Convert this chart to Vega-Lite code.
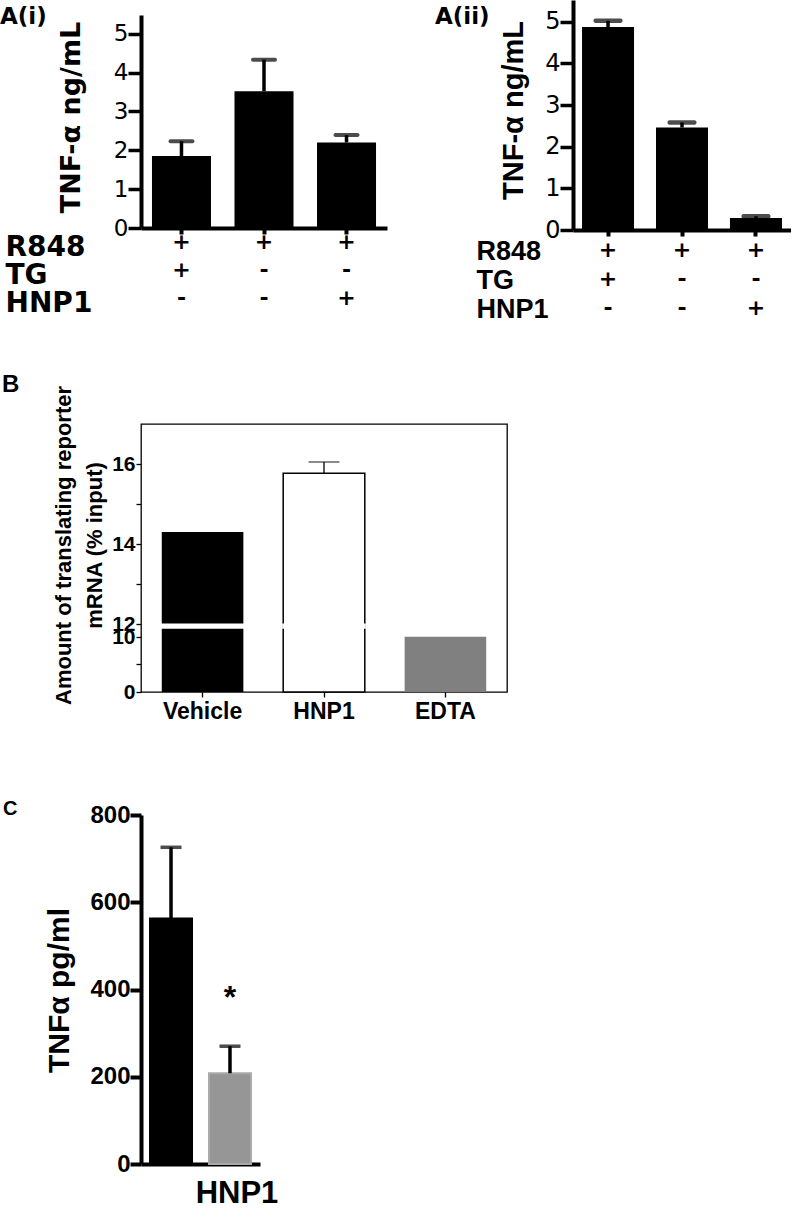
{
"$schema":"https://vega.github.io/schema/vega-lite/v6.json",
"padding":0,
"autosize":{"type":"pad"},
"background":"white",
"bounds":"flush",
"spacing":424,
"config":{
 "view":{"stroke":null},
 "axis":{"labelColor":"black","titleColor":"black","tickColor":"black","domainColor":"black","grid":false,"labelFont":"Liberation Sans","titleFont":"Liberation Sans"},
 "title":{"anchor":"start","frame":"group","font":"Liberation Sans","fontWeight":"bold","color":"black","offset":0,"baseline":"top"},
 "bar":{"color":"black"},
 "tick":{"color":"black"},
 "rule":{"color":"black"},
 "text":{"color":"black"}
},
"datasets":{
 "a1":[{"cond":"+/+/-","value":1.85,"hi":2.23},{"cond":"+/-/-","value":3.52,"hi":4.33},{"cond":"+/-/+","value":2.2,"hi":2.39}],
 "a2":[{"cond":"+/+/-","value":4.87,"hi":5.02},{"cond":"+/-/-","value":2.46,"hi":2.58},{"cond":"+/-/+","value":0.29,"hi":0.33}],
 "b":[{"group":"Vehicle","value":14.3},{"group":"HNP1","value":15.77,"hi":16.05},{"group":"EDTA","value":10.05}],
 "c":[{"group":"Control","value":563,"hi":726,"sig":""},{"group":"HNP1","value":208,"hi":270,"sig":"*"}]
},
"vconcat":[
 {"hconcat":[
  {"vconcat":[
   {"width":246,"height":15,"data":{"values":[]},"mark":"point"},
   {"width":246,"height":213,
    "title":{"text":"A(i)","fontSize":23,"font":"DejaVu Sans","dx":-141,"dy":18},
    "data":{"name":"a1"},
    "encoding":{"x":{"field":"cond","type":"nominal","sort":null,
      "scale":{"paddingInner":0.285,"paddingOuter":0.133},
      "axis":{"title":["R848","TG","HNP1"],"titleX":-136,"titleY":5,"titleAlign":"left","titleAnchor":"start","titleBaseline":"top","titleAngle":0,"titleFont":"DejaVu Sans","titleFontSize":28,"titleFontWeight":"bold","titleLineHeight":28,
        "labelExpr":"split(datum.value,'/')","labelAngle":0,"labelFont":"DejaVu Sans","labelFontSize":22,"labelFontWeight":"bold","labelLineHeight":28,"labelBaseline":"top","labelPadding":-3,"tickSize":6,"tickWidth":4,"domainWidth":4}}},
    "layer":[
     {"mark":{"type":"bar"},"encoding":{"y":{"field":"value","type":"quantitative","scale":{"domain":[0,5.48],"nice":false},
       "axis":{"title":"TNF-α ng/mL","titleFont":"DejaVu Sans","titleFontSize":27,"titleFontWeight":"bold","titleX":-70,"titleY":102,"titleAngle":-90,"titleBaseline":"middle","titleAlign":"center","values":[0,1,2,3,4,5],"tickCount":20,"format":"d","domainWidth":4,"tickWidth":3.5,"tickSize":13,"labelFont":"DejaVu Sans","labelFontSize":23,"labelFontWeight":"normal","labelPadding":0}}}},
     {"mark":{"type":"rule","strokeWidth":3.5},"encoding":{"y":{"field":"value","type":"quantitative"},"y2":{"field":"hi"}}},
     {"mark":{"type":"tick","thickness":4,"size":26,"cornerRadius":2},"encoding":{"y":{"field":"hi","type":"quantitative"}}}
    ]}
  ],"spacing":0,"bounds":"flush"},
  {"width":218,"height":230,
   "title":{"text":"A(ii)","fontSize":23,"font":"DejaVu Sans","dx":-138,"dy":33},
   "data":{"name":"a2"},
   "encoding":{"x":{"field":"cond","type":"nominal","sort":null,
     "scale":{"paddingInner":0.297,"paddingOuter":0.122},
     "axis":{"title":["R848","TG","HNP1"],"titleX":-97,"titleY":8,"titleAlign":"left","titleAnchor":"start","titleBaseline":"top","titleAngle":0,"titleFont":"Liberation Sans","titleFontSize":27,"titleFontWeight":"bold","titleLineHeight":29,
       "labelExpr":"split(datum.value,'/')","labelAngle":0,"labelFont":"DejaVu Sans","labelFontSize":22,"labelFontWeight":"bold","labelLineHeight":29,"labelBaseline":"top","labelPadding":3,"tickSize":6,"tickWidth":4,"domainWidth":4}}},
   "layer":[
    {"mark":{"type":"bar"},"encoding":{"y":{"field":"value","type":"quantitative","scale":{"domain":[0,5.52],"nice":false},
      "axis":{"title":"TNF-α ng/mL","titleFont":"Liberation Sans","titleFontSize":29,"titleFontWeight":"bold","titleX":-60,"titleY":110,"titleAngle":-90,"titleBaseline":"middle","titleAlign":"center","values":[0,1,2,3,4,5],"tickCount":20,"format":"d","domainWidth":4,"tickWidth":3.5,"tickSize":13,"labelFont":"DejaVu Sans","labelFontSize":24,"labelFontWeight":"normal","labelPadding":0}}}},
    {"mark":{"type":"rule","strokeWidth":3.5},"encoding":{"y":{"field":"value","type":"quantitative"},"y2":{"field":"hi"}}},
    {"mark":{"type":"tick","thickness":4.5,"size":29,"cornerRadius":2},"encoding":{"y":{"field":"hi","type":"quantitative"}}}
   ]}
 ],"spacing":432,"bounds":"flush"},
 {"vconcat":[
  {"width":366,"height":268,
   "view":{"stroke":"black","strokeWidth":1.3},
   "title":{"text":"B","fontSize":24,"dx":-139,"dy":16},
   "data":{"name":"b"},
   "encoding":{"x":{"field":"group","type":"nominal","sort":null,
     "scale":{"paddingInner":0.328,"paddingOuter":0.171},
     "axis":{"title":null,"labelAngle":0,"labelFontSize":23,"labelFontWeight":"bold","domain":false,"tickSize":5,"tickWidth":1.3,"labelPadding":3}}},
   "layer":[
    {"mark":{"type":"bar","stroke":"black"},
     "encoding":{
      "y":{"field":"value","type":"quantitative","scale":{"domain":[0,11.6,12,17],"range":[268,204.2,200,0],"nice":false,"zero":false},
       "axis":{"title":["Amount of translating reporter","mRNA (% input)"],"titleFontSize":22,"titleFontWeight":"bold","titleLineHeight":31,"titleX":-78,"titleY":121,"titleAngle":-90,"titleBaseline":"middle","titleAlign":"center",
        "values":[0,5,10,12,13,14,15,16],"tickCount":30,"format":"d","labelExpr":"(datum.value==5||datum.value==13||datum.value==15)?'':datum.label","labelOverlap":false,"domain":false,"tickSize":5,"tickWidth":1.3,"labelFontSize":21,"labelFontWeight":"bold","labelPadding":1}},
      "color":{"field":"group","type":"nominal","scale":{"domain":["Vehicle","HNP1","EDTA"],"range":["#000000","#ffffff","#808080"]},"legend":null},
      "strokeWidth":{"condition":{"test":"datum.group==='HNP1'","value":1.5},"value":0}}},
    {"transform":[{"filter":"datum.group!=='EDTA'"}],
     "mark":{"type":"bar","color":"white","stroke":"white","strokeWidth":2},
     "encoding":{"y":{"datum":11.65,"type":"quantitative"},"y2":{"datum":11.95}}},
    {"transform":[{"filter":"isValid(datum.hi)"}],
     "mark":{"type":"rule","strokeWidth":1.3},"encoding":{"y":{"field":"value","type":"quantitative"},"y2":{"field":"hi"}}},
    {"transform":[{"filter":"isValid(datum.hi)"}],
     "mark":{"type":"tick","thickness":1.3,"size":31},"encoding":{"y":{"field":"hi","type":"quantitative"}}}
   ]},
  {"width":119,"height":349,
   "title":{"text":"C","fontSize":20,"dx":-138,"dy":20},
   "data":{"name":"c"},
   "encoding":{"x":{"field":"group","type":"nominal","sort":null,
     "scale":{"paddingInner":0.288,"paddingOuter":0.153},
     "axis":{"title":null,"labelExpr":"datum.value=='HNP1'?'HNP1':''","labelAngle":0,"ticks":false,"tickSize":0,"labelFontSize":31,"labelFontWeight":"bold","labelOffset":7,"labelPadding":14,"domainWidth":4}}},
   "layer":[
    {"mark":{"type":"bar","strokeWidth":2},
     "encoding":{
      "y":{"field":"value","type":"quantitative","scale":{"domain":[0,800],"nice":false},
       "axis":{"title":"TNFα pg/ml","titleFontSize":30,"titleFontWeight":"bold","titleX":-82,"titleY":175,"titleAngle":-90,"titleBaseline":"middle","titleAlign":"center","values":[0,200,400,600,800],"tickCount":20,"format":"d","domainWidth":4,"tickWidth":4,"tickSize":11,"labelFontSize":24,"labelFontWeight":"bold","labelPadding":0}},
      "fill":{"condition":{"test":"datum.group==='HNP1'","value":"#969696"},"value":"black"},
      "stroke":{"condition":{"test":"datum.group==='HNP1'","value":"#aaaaaa"},"value":"black"}}},
    {"mark":{"type":"rule","strokeWidth":3.5},"encoding":{"y":{"field":"value","type":"quantitative"},"y2":{"field":"hi"}}},
    {"mark":{"type":"tick","thickness":3.5,"size":21},"encoding":{"y":{"field":"hi","type":"quantitative"}}},
    {"transform":[{"filter":"datum.sig!==''"}],
     "mark":{"type":"text","fontSize":32,"fontWeight":"bold","font":"Liberation Sans","baseline":"alphabetic","dy":-38},"encoding":{"y":{"field":"hi","type":"quantitative"},"text":{"field":"sig"}}}
   ]}
 ],"spacing":123,"bounds":"flush"}
]
}
